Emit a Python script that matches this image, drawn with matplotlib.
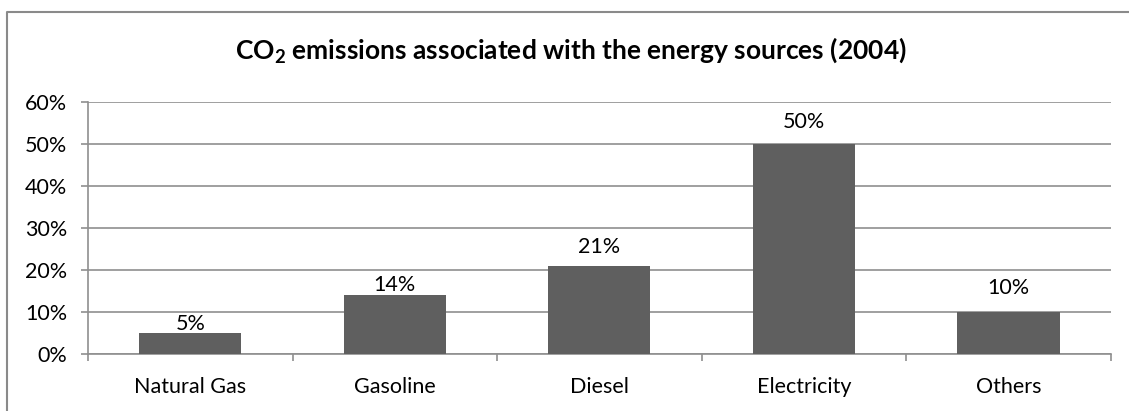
import matplotlib
matplotlib.use("Agg")
import matplotlib.pyplot as plt
from matplotlib.lines import Line2D
from matplotlib.ticker import FuncFormatter, MultipleLocator

# 能源类别与对应的 CO2 排放占比（%）
categories = ["Natural Gas", "Gasoline", "Diesel", "Electricity", "Others"]
shares = [5, 14, 21, 50, 10]

# 数值标签与柱顶之间的间距（像素），各标签手动错开
label_gaps_px = [3, 4, 13, 16, 18]

plt.rcParams["font.family"] = ["Lato", "DejaVu Sans"]
plt.rcParams["mathtext.fontset"] = "custom"
plt.rcParams["mathtext.rm"] = "Lato"
plt.rcParams["mathtext.bf"] = "Lato:bold"

BAR_COLOR = "#5f5f5f"
GRID_COLOR = "#8f8f8f"
TEXT_COLOR = "#000000"
LABEL_SIZE = 15.5

fig = plt.figure(figsize=(11.29, 4.11), dpi=100)
ax = fig.add_axes([0.0779, 0.1394, 0.9059, 0.6124])

x = list(range(len(categories)))
bars = ax.bar(x, shares, width=0.5, color=BAR_COLOR, zorder=3)

for rect, value, gap in zip(bars, shares, label_gaps_px):
    ax.annotate(f"{value}%", xy=(rect.get_x() + rect.get_width() / 2, value),
                xytext=(0, gap * 0.72), textcoords="offset points",
                ha="center", va="baseline", fontsize=LABEL_SIZE, color=TEXT_COLOR)

ax.set_xlim(-0.5, len(categories) - 0.5)
ax.set_ylim(0, 60)
ax.yaxis.set_major_locator(MultipleLocator(10))
ax.yaxis.set_major_formatter(FuncFormatter(lambda v, _: f"{v:.0f}%"))
ax.grid(axis="y", color=GRID_COLOR, linewidth=1.2, zorder=0)

# 类别刻度放在分隔处，标签居中显示
ax.set_xticks([i - 0.5 for i in range(len(categories) + 1)])
ax.set_xticklabels([])
ax.set_xticks(x, minor=True)
ax.set_xticklabels(categories, minor=True)
ax.tick_params(axis="x", which="major", length=5, width=1.2, color=GRID_COLOR, direction="out")
ax.tick_params(axis="x", which="minor", length=0, pad=17, labelsize=LABEL_SIZE)
ax.tick_params(axis="y", length=5, width=1.2, color=GRID_COLOR, pad=10, labelsize=LABEL_SIZE)

for side in ("top", "right"):
    ax.spines[side].set_visible(False)
for side in ("left", "bottom"):
    ax.spines[side].set_color(GRID_COLOR)
    ax.spines[side].set_linewidth(1.2)

fig.text(0.506, 0.878, r"$\mathbf{CO_2}$ emissions associated with the energy sources (2004)",
         ha="center", va="center", fontsize=19, fontweight="bold", color=TEXT_COLOR)

# 图表外框：只有上边和左边落在画布内
frame_x = 7 / 1129
frame_y = 1 - 12 / 411
fig.add_artist(Line2D([frame_x, frame_x, 1.0], [0.0, frame_y, frame_y],
                      transform=fig.transFigure, color="#8a8a8a", linewidth=1.5))

fig.savefig("out.png", dpi=100)
